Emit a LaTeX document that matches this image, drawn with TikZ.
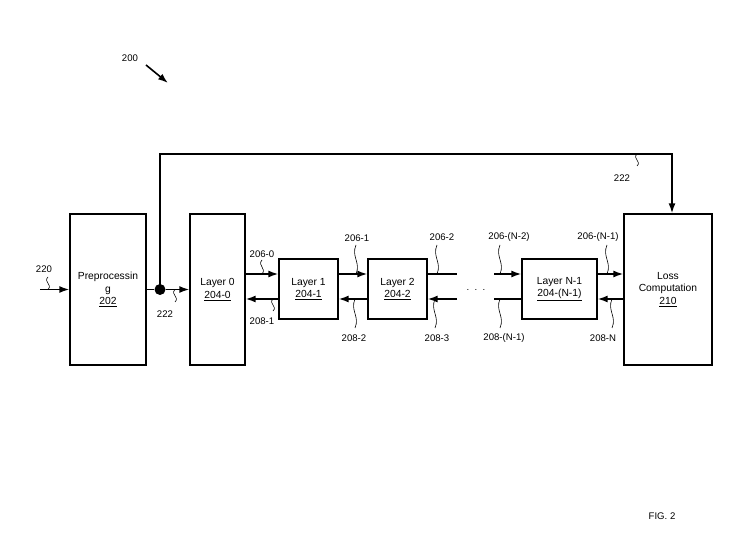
\documentclass[tikz,border=0pt]{standalone}
\usepackage{fontspec}
\setmainfont{Liberation Sans}
\usetikzlibrary{arrows.meta}
\newcommand\squig[3]{\draw[sq] (#1,#2) .. controls ({#1-5},{#2+0.4*(#3-#2)}) and ({#1+5},{#2+0.6*(#3-#2)}) .. (#1,#3);}
\begin{document}
\begin{tikzpicture}[x=1pt,y=-1pt,
 box/.style={draw,line width=1.4pt,inner sep=0pt,align=center,font=\fontsize{10.3}{12.8}\selectfont},
 lbl/.style={font=\fontsize{9.6}{12}\selectfont,inner sep=0pt},
 wire/.style={line width=1.5pt},
 arr/.style={wire,-{Latex[length=10pt,width=7pt]}},
 sq/.style={line width=0.6pt}]
\useasboundingbox (0,0) rectangle (742,556);
% boxes
\node[box,minimum width=76,minimum height=151] (pre) at (108,289.5) {Preprocessin\\g\\\underline{202}};
\node[box,minimum width=55,minimum height=151] (L0) at (217.5,289.5) {Layer 0\\\underline{204-0}};
\node[box,minimum width=88,minimum height=151] (loss) at (668,289.5) {Loss\\Computation\\\underline{210}};
\node[box,minimum width=59,minimum height=60] (L1) at (308.5,289) {Layer 1\\\underline{204-1}};
\node[box,minimum width=59,minimum height=60] (L2) at (397.5,289) {Layer 2\\\underline{204-2}};
\node[box,minimum width=75,minimum height=60] (LN) at (559.5,289) {Layer N-1\\\underline{204-(N-1)}};
\node[circle,fill,minimum size=11pt,inner sep=0pt] (dot) at (160,289.5) {};
% coordinates
\coordinate (in) at (40,289.5);
\coordinate (top) at (160,154);
\coordinate (f0) at (0,274);
\coordinate (b0) at (0,299);
\coordinate (L2fo) at (457,274);
\coordinate (L2bo) at (457,299);
\coordinate (LNfi) at (494,274);
\coordinate (LNbi) at (494,299);
% connectors
\draw[arr] (in) -- (pre.west);
\draw[wire] (pre.east) -- (dot);
\draw[arr] (dot) -- (L0.west);
\draw[arr] (dot.center) -- (top) -| ([xshift=4pt]loss.north);
\draw[arr] (L0.east |- f0) -- (L1.west |- f0);
\draw[arr] (L1.west |- b0) -- (L0.east |- b0);
\draw[arr] (L1.east |- f0) -- (L2.west |- f0);
\draw[arr] (L2.west |- b0) -- (L1.east |- b0);
\draw[wire] (L2.east |- f0) -- (L2fo);
\draw[arr] (L2bo) -- (L2.east |- b0);
\draw[arr] (LNfi) -- (LN.west |- f0);
\draw[wire] (LN.west |- b0) -- (LNbi);
\draw[arr] (LN.east |- f0) -- (loss.west |- f0);
\draw[arr] (loss.west |- b0) -- (LN.east |- b0);
% labels
\node[lbl] (l200) at (130,58) {200};
\coordinate (a200) at (168,83);
\draw[line width=1.6pt,-{Latex[length=10pt,width=7pt]}] ([shift={(16,7)}]l200.center) -- (a200);
\node[lbl] (l220) at (44,269) {220};
\node[lbl] (l222a) at (165,314) {222};
\node[lbl] (l222b) at (622,178) {222};
\node[lbl] (l2060) at (262,254) {206-0};
\node[lbl] (l2081) at (262,321) {208-1};
\node[lbl] (l2061) at (357,238) {206-1};
\node[lbl] (l2082) at (354,338) {208-2};
\node[lbl] (l2062) at (442,237) {206-2};
\node[lbl] (l2083) at (437,338) {208-3};
\node[lbl] (l206N2) at (509,237) {206-(N-2)};
\node[lbl] (l208N1) at (504,338) {208-(N-1)};
\node[lbl] (l206N1) at (598,237) {206-(N-1)};
\node[lbl] (l208N) at (603,338) {208-N};
\node[lbl] (dots) at (476,290) {.\ \ .\ \ .};
\node[lbl] (fig) at (662,516) {FIG. 2};
% squiggles
\squig{48}{277}{289.5}
\squig{175}{289.5}{302}
\squig{637}{154}{166}
\squig{262}{260}{274}
\squig{273}{299}{311}
\squig{356}{245}{274}
\squig{355}{299}{328}
\squig{437}{245}{274}
\squig{435}{299}{328}
\squig{500}{245}{274}
\squig{500}{299}{328}
\squig{607}{245}{274}
\squig{612}{299}{328}
\end{tikzpicture}
\end{document}
